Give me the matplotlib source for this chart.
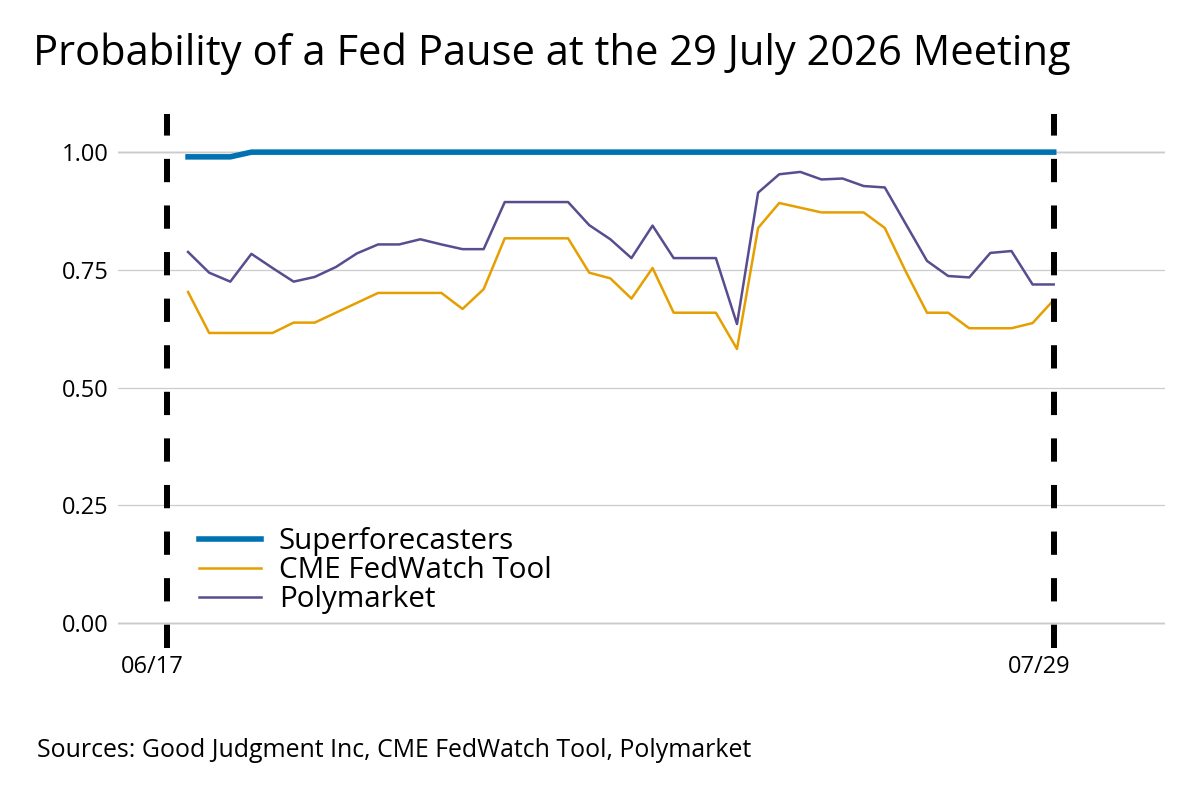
import matplotlib
matplotlib.use("Agg")
import matplotlib.pyplot as plt
import matplotlib.dates as mdates
import matplotlib.transforms as mtransforms
import numpy as np
import pandas as pd

plt.rcParams['font.family'] = ['Open Sans', 'DejaVu Sans']

dates = pd.date_range("2026-06-18", "2026-07-29", freq="D")

superforecasters = [0.99, 0.99, 0.99] + [1.00] * 39

cme = [0.703, 0.616, 0.616, 0.616, 0.616, 0.638, 0.638, 0.659, 0.680, 0.701,
       0.701, 0.701, 0.701, 0.667, 0.709, 0.817, 0.817, 0.817, 0.817, 0.744,
       0.732, 0.689, 0.754, 0.659, 0.659, 0.659, 0.582, 0.839, 0.892, 0.882,
       0.872, 0.872, 0.872, 0.839, 0.746, 0.659, 0.659, 0.626, 0.626, 0.626,
       0.637, 0.686]

polymarket = [0.788, 0.744, 0.725, 0.784, 0.754, 0.725, 0.735, 0.756, 0.785, 0.804,
              0.804, 0.815, 0.804, 0.794, 0.794, 0.894, 0.894, 0.894, 0.894, 0.845,
              0.815, 0.775, 0.844, 0.775, 0.775, 0.775, 0.635, 0.914, 0.953, 0.958,
              0.942, 0.944, 0.928, 0.925, 0.847, 0.769, 0.737, 0.734, 0.786, 0.790,
              0.719, 0.719]

event_dates = pd.to_datetime(["2026-06-17", "2026-07-29"])
tick_labels = ["06/17", "07/29"]
y_ticks = [0.00, 0.25, 0.50, 0.75, 1.00]

title = "Probability of a Fed Pause at the 29 July 2026 Meeting"
source = "Sources: Good Judgment Inc, CME FedWatch Tool, Polymarket"

fig = plt.figure(figsize=(12, 8), dpi=100)
ax = fig.add_axes([0.0983, 0.19, 0.8725, 0.6675])

ax.plot(dates, superforecasters, color="#0072B2", lw=4.0, label="Superforecasters",
        solid_joinstyle="round", zorder=4)
ax.plot(dates, cme, color="#E69F00", lw=1.8, label="CME FedWatch Tool", zorder=3)
ax.plot(dates, polymarket, color="#574D8F", lw=1.8, label="Polymarket", zorder=3)

for d in event_dates:
    ax.axvline(d, color="black", lw=4.3, dashes=(3.9, 3.9), zorder=5)

d0 = mdates.date2num(event_dates[0])
ax.set_xlim(d0 - 2.32, d0 + 47.27)
ax.set_ylim(-0.053, 1.081)

ax.set_yticks(y_ticks)
ax.set_yticklabels([f"{v:.2f}" for v in y_ticks])
ax.set_xticks(event_dates)
ax.set_xticklabels(tick_labels)

ax.tick_params(axis="both", length=0, labelsize=17, colors="black")
ax.tick_params(axis="y", pad=6.5)
ax.tick_params(axis="x", pad=5)

offset = mtransforms.ScaledTranslation(-15 / 100, 0, fig.dpi_scale_trans)
for lab in ax.get_xticklabels():
    lab.set_transform(lab.get_transform() + offset)

for s in ax.spines.values():
    s.set_visible(False)

ax.grid(axis="y", color="#cccccc", lw=0.9)
ax.grid(axis="x", visible=False)
ax.axhline(0, color="#999999", lw=1.0, zorder=1)
ax.axhline(1, color="#999999", lw=1.0, zorder=1)

leg = ax.legend(loc="upper left", bbox_to_anchor=(0.0775, 0.226), frameon=False,
                fontsize=21.3, handlelength=2.1, handletextpad=0.6,
                labelspacing=0.0, borderpad=0, borderaxespad=0)

fig.text(33 / 1200, 1 - 65 / 800, title, fontsize=30, ha="left", va="baseline")
fig.text(37 / 1200, 1 - 757 / 800, source, fontsize=17.9, ha="left", va="baseline")

fig.savefig("out.png", dpi=100)
